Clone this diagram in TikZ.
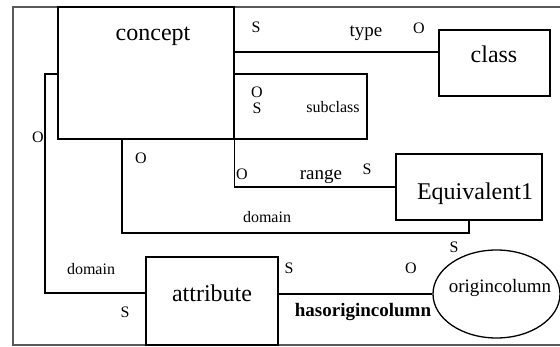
\documentclass[tikz,border=0pt]{standalone}
\usepackage{fontspec}
\setmainfont{Liberation Serif}
\usepackage{tikz}
\usetikzlibrary{shapes.geometric}

\newcommand{\bigtxt}{\fontsize{24}{28}\selectfont}
\newcommand{\midtxt}{\fontsize{19}{22}\selectfont}
\newcommand{\smalltxt}{\fontsize{16}{18}\selectfont}

\tikzset{
	box/.style={draw, line width=1.3pt, inner sep=0pt},
	conn/.style={line width=1.3pt},
	tag/.style={anchor=base, inner sep=0pt, font=\smalltxt},
	rel/.style={anchor=base, inner sep=0pt, font=\midtxt},
	boxtxt/.style={anchor=base, inner sep=0pt, font=\bigtxt},
}

\begin{document}
\begin{tikzpicture}[x=1pt, y=-1pt]
		\useasboundingbox (0,0) rectangle (560,347);
		\draw[line width=1.5pt, black!65] (563,7) -- (13,7) -- (13,345) -- (563,345);
		
		% boxes
		\node[box, minimum width=176pt, minimum height=132pt] (concept) at (146,73) {};
		\node[box, minimum width=111pt, minimum height=66pt] (class) at (494.5,63) {};
		\node[box, minimum width=133pt, minimum height=65pt] (subclass) at (300.5,106.5) {};
		\node[box, minimum width=146pt, minimum height=66pt] (equiv) at (469,187) {};
		\node[box, minimum width=132pt, minimum height=88pt] (attribute) at (212,301) {};
		\node[box, ellipse, minimum width=127pt, minimum height=88pt] (origin) at (496.5,294) {};
		
		\node[boxtxt] (concept_t) at (153,41) {concept};
		\node[boxtxt] (class_t) at (494,63) {class};
		\node[boxtxt] (equiv_t) at (475,200) {Equivalent1};
		\node[boxtxt] (attribute_t) at (212,302) {attribute};
		\node[rel] (origin_t) at (500,293) {origincolumn};
		
		% connectors
		\coordinate (typey) at (0,52);
		\coordinate (dom1) at (122,233);
		\coordinate (dom2a) at (45,74);
		\coordinate (dom2b) at (45,293);
		\draw[conn] (concept.east |- typey) -- (class.west |- typey);
		\draw[conn] (concept.south east) |- (equiv.west);
		\draw[conn] (concept.south -| dom1) -- (dom1) -| (equiv.south);
		\draw[conn] (concept.west |- dom2a) -- (dom2a) -- (dom2b) -- (attribute.west |- dom2b);
		\draw[conn] (attribute.east |- origin.west) -- (origin.west);
		
		% labels
		\node[tag] (s_type) at (256,33) {S};
		\node[rel] (type) at (366,37) {type};
		\node[tag] (o_type) at (419,34) {O};
		\node[tag] (o_sub) at (257,98) {O};
		\node[tag] (s_sub) at (257,114) {S};
		\node[tag] (subcl) at (333,113) {subclass};
		\node[tag] (o_dom1) at (141,164) {O};
		\node[tag] (o_range) at (242,180) {O};
		\node[rel] (range) at (321,180) {range};
		\node[tag] (s_range) at (367,175) {S};
		\node[tag] (domain1) at (267,223) {domain};
		\node[tag] (s_dom1) at (454,253) {S};
		\node[tag] (o_dom2) at (38,143) {O};
		\node[tag] (domain2) at (91,275) {domain};
		\node[tag] (s_dom2) at (125,318) {S};
		\node[tag] (s_has) at (289,274) {S};
		\node[tag] (o_has) at (411,274) {O};
		\node[rel, font=\midtxt\bfseries] (has) at (363,317) {hasorigincolumn};
	\end{tikzpicture}
\end{document}
